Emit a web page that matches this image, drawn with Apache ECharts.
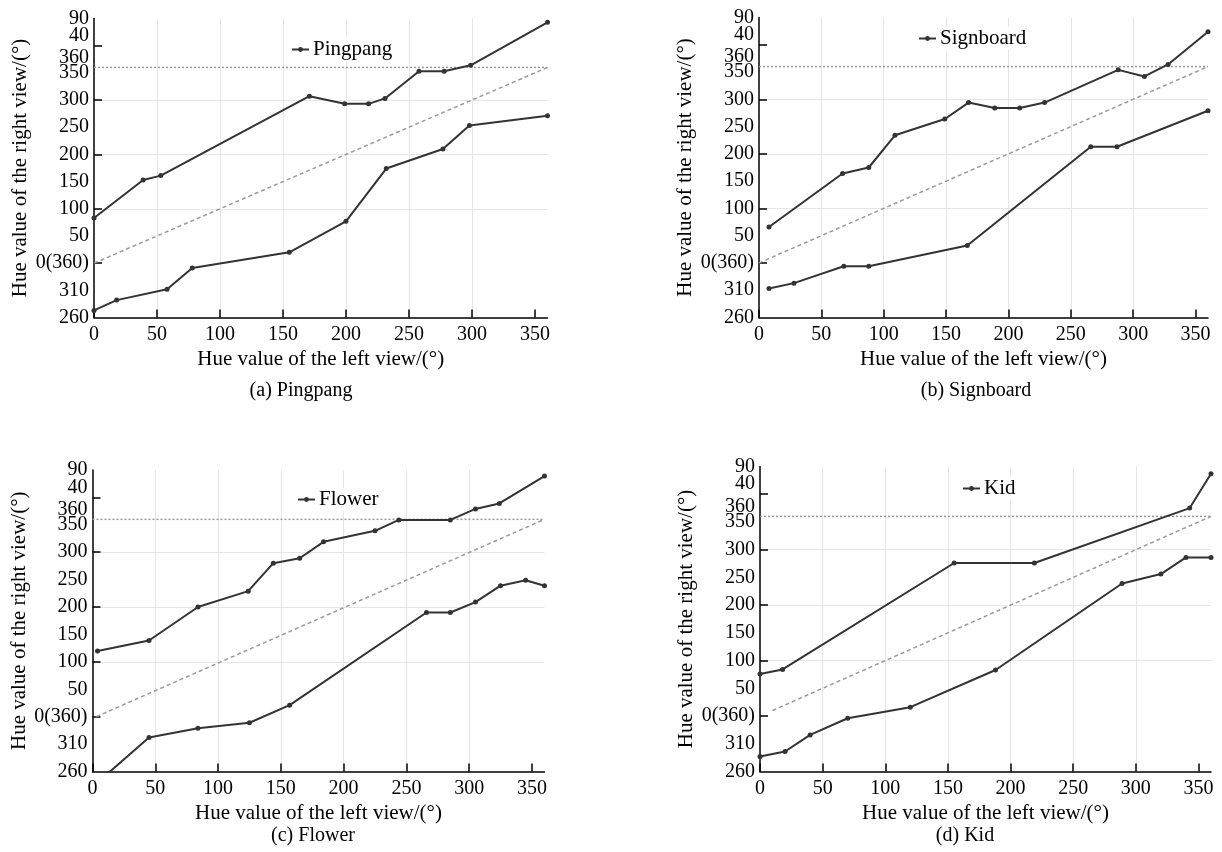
<!DOCTYPE html>
<html>
<head>
<meta charset="utf-8">
<script src="https://cdn.jsdelivr.net/npm/echarts@6/dist/echarts.min.js"></script>
<style>
  html, body { margin: 0; padding: 0; background: #fff; }
  #chart { width: 1222px; height: 852px; }
</style>
</head>
<body>
<div id="chart"></div>
<script>
// hue on the right view is unwrapped: -100..0 means 260..360, 360..450 means 0..90
const names = ['Pingpang', 'Signboard', 'Flower', 'Kid']
const captions = ['(a) Pingpang', '(b) Signboard', '(c) Flower', '(d) Kid']

const xTickValues = [0, 50, 100, 150, 200, 250, 300, 350]
const yTickValues = [-100, -50, 0, 50, 100, 150, 200, 250, 300, 350, 450]
const yTickLabels = ['260', '310', '0(360)', '50', '100', '150', '200', '250', '300', '350', '90']
// these two sit crowded near the top, printed just above their value
const yRaisedValues = [360, 400]
const yRaisedLabels = ['360', '40']
const yGridTicks = [0, 100, 200, 300, 400]

const pingpangUpper = [[0, 83], [39, 153], [53, 161], [171, 307], [199, 293], [218, 293], [231, 303], [258, 353], [278, 353], [299, 364], [360, 443]]
const pingpangLower = [[0, -87], [18, -68], [58, -48], [78, -9], [155, 20], [200, 77], [232, 174], [277, 210], [298, 253], [360, 271]]

const signboardUpper = [[8, 66], [67, 164], [88, 175], [109, 234], [149, 264], [168, 294], [189, 284], [209, 284], [229, 294], [288, 354], [309, 342], [328, 364], [360, 424]]
const signboardLower = [[8, -47], [28, -37], [68, -6], [88, -6], [167, 32], [266, 213], [287, 213], [360, 279]]

const flowerUpper = [[4, 120], [45, 139], [84, 200], [124, 229], [144, 280], [165, 289], [184, 319], [225, 339], [244, 359], [285, 359], [305, 379], [324, 389], [360, 439]]
const flowerLower = [[4, -120], [45, -38], [84, -21], [125, -11], [157, 21], [266, 190], [285, 190], [305, 209], [325, 239], [345, 249], [360, 239]]

const kidUpper = [[0, 76], [18, 84], [155, 276], [219, 276], [343, 375], [360, 437]]
const kidLower = [[0, -73], [20, -64], [40, -34], [70, -4], [120, 16], [188, 83], [289, 239], [320, 256], [340, 286], [360, 286]]

const diagonals = [
  [[0, 0], [360, 360]],
  [[0, 0], [360, 360]],
  [[3, 0], [360, 360]],
  [[10, 10], [360, 360]]
]
const wrapLine = [[0, 360], [360, 360]]

const uppers = [pingpangUpper, signboardUpper, flowerUpper, kidUpper]
const lowers = [pingpangLower, signboardLower, flowerLower, kidLower]

// panel layout
const grids = [
  { left: 94, top: 18.5, width: 453.5, height: 299 },
  { left: 759, top: 17.5, width: 449, height: 300 },
  { left: 92.5, top: 470, width: 452, height: 301.5 },
  { left: 760, top: 466.5, width: 451, height: 305 }
]
const legendPos = [
  { left: 288, top: 38 },
  { left: 915, top: 27 },
  { left: 294, top: 488 },
  { left: 959, top: 477 }
]
const captionPos = [
  { left: 301, top: 381 },
  { left: 976, top: 381 },
  { left: 313, top: 826 },
  { left: 965, top: 826 }
]

const font = 'Liberation Serif'
const black = '#000'
const curveColor = '#333'
const labelStyle = { fontFamily: font, fontSize: 20, color: black }

const mainYAxis = i => ({
  gridIndex: i,
  type: 'value',
  position: 'left',
  min: -100,
  max: 450,
  interval: 100,
  name: 'Hue value of the right view/(°)',
  nameLocation: 'middle',
  nameGap: 63,
  nameTextStyle: { fontFamily: font, fontSize: 21, color: black },
  axisLine: { show: true, onZero: false, lineStyle: { color: black, width: 1.5 } },
  axisTick: { show: true, inside: true, length: 8, customValues: yGridTicks, lineStyle: { color: black, width: 1.5 } },
  axisLabel: {
    customValues: yTickValues,
    showMinLabel: true,
    showMaxLabel: true,
    margin: 5,
    ...labelStyle,
    formatter: v => yTickLabels[yTickValues.indexOf(v)]
  },
  splitLine: { show: true, showMinLine: false, showMaxLine: false, lineStyle: { color: '#e6e6e6', width: 1 } }
})

const raisedYAxis = i => ({
  gridIndex: i,
  type: 'value',
  position: 'left',
  offset: 0,
  min: -100,
  max: 450,
  interval: 100,
  axisLine: { show: false },
  axisTick: { show: false },
  splitLine: { show: false },
  axisLabel: {
    customValues: yRaisedValues,
    showMinLabel: true,
    showMaxLabel: true,
    margin: 5,
    verticalAlign: 'bottom',
    ...labelStyle,
    formatter: v => yRaisedLabels[yRaisedValues.indexOf(v)]
  }
})

const option = {
  animation: false,
  backgroundColor: '#fff',
  textStyle: { fontFamily: font },
  title: captions.map((c, i) => ({
    text: c,
    left: captionPos[i].left,
    top: captionPos[i].top,
    textAlign: 'center',
    padding: 0,
    textStyle: { fontFamily: font, fontSize: 20, fontWeight: 'normal', color: black }
  })),
  legend: names.map((n, i) => ({
    data: [n],
    left: legendPos[i].left,
    top: legendPos[i].top,
    padding: [1, 3, 1, 3],
    itemWidth: 17,
    itemHeight: 6,
    backgroundColor: '#fff',
    textStyle: { fontFamily: font, fontSize: 21, color: black, padding: [0, 0, 0, -1] }
  })),
  grid: grids,
  xAxis: grids.map((g, i) => ({
    gridIndex: i,
    type: 'value',
    min: 0,
    max: 360,
    interval: 50,
    name: 'Hue value of the left view/(°)',
    nameLocation: 'middle',
    nameGap: 31,
    nameTextStyle: { fontFamily: font, fontSize: 21, color: black },
    axisLine: { show: true, onZero: false, lineStyle: { color: black, width: 1.5 } },
    axisTick: { show: true, inside: true, length: 8, customValues: xTickValues, lineStyle: { color: black, width: 1.5 } },
    axisLabel: { customValues: xTickValues, margin: 7, ...labelStyle },
    splitLine: { show: true, showMinLine: false, showMaxLine: false, lineStyle: { color: '#e6e6e6', width: 1 } }
  })),
  yAxis: grids.map((g, i) => mainYAxis(i)).concat(grids.map((g, i) => raisedYAxis(i))),
  series: []
}

names.forEach((n, i) => {
  const curve = data => ({
    name: n,
    type: 'line',
    xAxisIndex: i,
    yAxisIndex: i,
    data: data,
    symbol: 'circle',
    symbolSize: 5,
    showAllSymbol: true,
    clip: true,
    z: 5,
    lineStyle: { color: curveColor, width: 2 },
    itemStyle: { color: curveColor },
    emphasis: { disabled: true }
  })
  option.series.push(curve(uppers[i]))
  option.series.push(curve(lowers[i]))
  option.series.push({
    type: 'line',
    xAxisIndex: i,
    yAxisIndex: i,
    data: diagonals[i],
    symbol: 'none',
    z: 3,
    lineStyle: { color: '#9a9a9a', width: 1.5, type: [4, 3] },
    emphasis: { disabled: true }
  })
  option.series.push({
    type: 'line',
    xAxisIndex: i,
    yAxisIndex: i,
    data: wrapLine,
    symbol: 'none',
    z: 3,
    lineStyle: { color: '#9a9a9a', width: 1.5, type: [2, 2] },
    emphasis: { disabled: true }
  })
})

const chart = echarts.init(document.getElementById('chart'))
chart.setOption(option)
window.addEventListener('resize', () => chart.resize())
</script>
</body>
</html>
